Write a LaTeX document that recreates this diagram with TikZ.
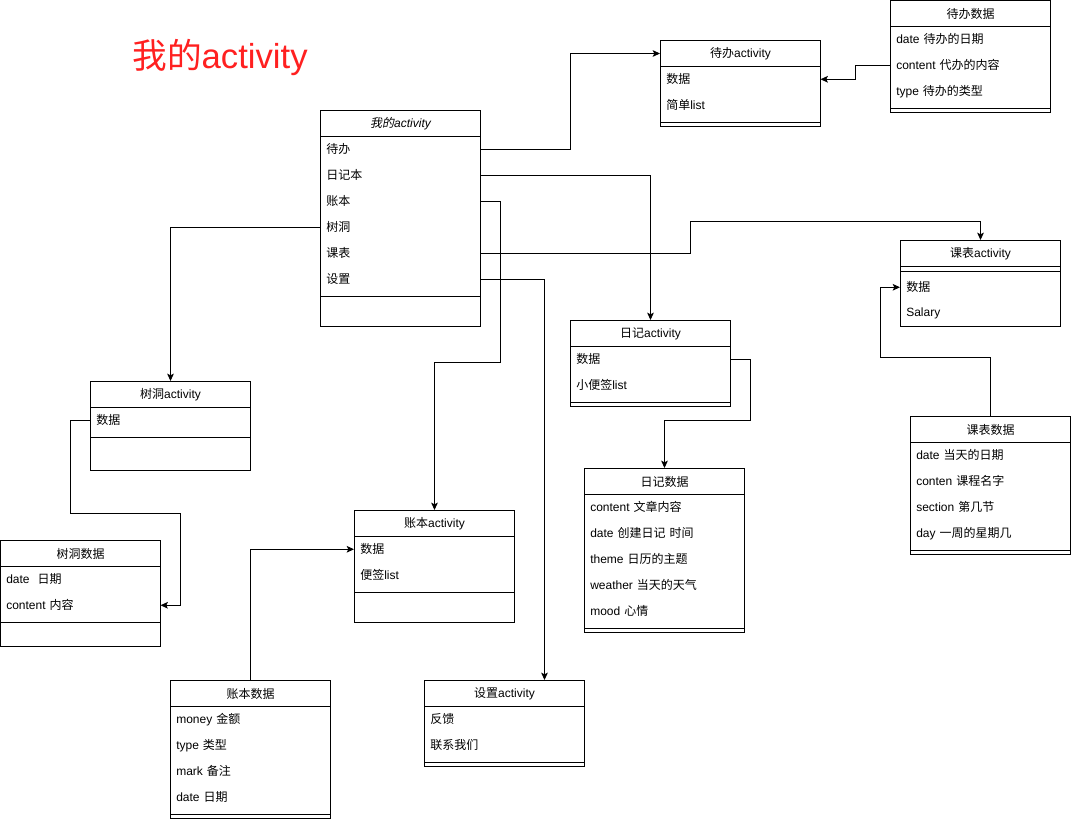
\documentclass[tikz,border=0pt]{standalone}
\usepackage{fontspec}
\setmainfont{Liberation Sans}
\newfontfamily\cjk{Noto Sans CJK SC}
\newfontfamily\cjkit[FakeSlant=0.2]{Noto Sans CJK SC}
\usetikzlibrary{arrows.meta}
\definecolor{titlered}{RGB}{255,32,32}
\tikzset{
	classbox/.style={draw, line width=0.75pt, anchor=north west, minimum width=120pt, minimum height=#1*0.75pt, inner sep=0pt},
	classhead/.style={draw, line width=0.75pt, anchor=north west, minimum width=120pt, minimum height=19.5pt, inner sep=0pt, font=\fontsize{9pt}{11pt}\selectfont},
	field/.style={anchor=north west, minimum height=19.5pt, text width=111pt, inner xsep=4.5pt, inner ysep=0pt, align=left, font=\fontsize{9pt}{11pt}\selectfont},
	rule/.style={line width=0.75pt},
	link/.style={line width=0.75pt, -{Stealth[length=5.5pt,width=5pt,inset=1.2pt]}}
}
\begin{document}
\begin{tikzpicture}[x=0.75pt, y=-0.75pt]
		\useasboundingbox (0,0) rectangle (1071,820);
		\node[font=\fontsize{26pt}{30pt}\selectfont, text=titlered] (title) at (220,57) {{\cjk 我的}activity};

		% main activity
		\node[classbox=216] (actBox) at (320,110) {};
		\node[classhead, font=\fontsize{9pt}{11pt}\selectfont\itshape] (act) at (320,110) {{\cjkit 我的}activity};
		\node[field] (todo) at (320,136)		{\cjk 待办};
		\node[field] (diary) at (320,162)		{\cjk 日记本};
		\node[field] (bill) at (320,188)		{\cjk 账本};
		\node[field] (hole) at (320,214)		{\cjk 树洞};
		\node[field] (course) at (320,240)		{\cjk 课表};
		\node[field] (set) at (320,266)		{\cjk 设置};
		\draw[rule] ([yshift=-3pt]set.south west) -- ([yshift=-3pt]set.south east);

		% todo
		\node[classbox=86] (todoABox) at (660,40) {};
		\node[classhead] (todoA) at (660,40) {{\cjk 待办}activity};
		\node[field] (todoA1) at (660,66)		{\cjk 数据};
		\node[field] (todoA2) at (660,92)		{{\cjk 简单}list};
		\draw[rule] ([yshift=-3pt]todoA2.south west) -- ([yshift=-3pt]todoA2.south east);

		\node[classbox=112] (todoDBox) at (890,0) {};
		\node[classhead] (todoD) at (890,0) {\cjk 待办数据};
		\node[field] (todoD1) at (890,26)		{date {\cjk 待办的日期}};
		\node[field] (todoD2) at (890,52)		{content {\cjk 代办的内容}};
		\node[field] (todoD3) at (890,78)		{type {\cjk 待办的类型}};
		\draw[rule] ([yshift=-3pt]todoD3.south west) -- ([yshift=-3pt]todoD3.south east);

		% course
		\node[classbox=86] (courseABox) at (900,240) {};
		\node[classhead] (courseA) at (900,240) {{\cjk 课表}activity};
		\draw[rule] ([yshift=-3pt]courseA.south west) -- ([yshift=-3pt]courseA.south east);
		\node[field] (courseA1) at (900,274)		{\cjk 数据};
		\node[field] (courseA2) at (900,300)		{Salary};

		\node[classbox=138] (courseDBox) at (910,416) {};
		\node[classhead] (courseD) at (910,416) {\cjk 课表数据};
		\node[field] (courseD1) at (910,442)		{date {\cjk 当天的日期}};
		\node[field] (courseD2) at (910,468)		{conten {\cjk 课程名字}};
		\node[field] (courseD3) at (910,494)		{section {\cjk 第几节}};
		\node[field] (courseD4) at (910,520)		{day {\cjk 一周的星期几}};
		\draw[rule] ([yshift=-3pt]courseD4.south west) -- ([yshift=-3pt]courseD4.south east);

		% diary
		\node[classbox=86] (diaryABox) at (570,320) {};
		\node[classhead] (diaryA) at (570,320) {{\cjk 日记}activity};
		\node[field] (diaryA1) at (570,346)		{\cjk 数据};
		\node[field] (diaryA2) at (570,372)		{{\cjk 小便签}list};
		\draw[rule] ([yshift=-3pt]diaryA2.south west) -- ([yshift=-3pt]diaryA2.south east);

		\node[classbox=164] (diaryDBox) at (584,468) {};
		\node[classhead] (diaryD) at (584,468) {\cjk 日记数据};
		\node[field] (diaryD1) at (584,494)		{content {\cjk 文章内容}};
		\node[field] (diaryD2) at (584,520)		{date {\cjk 创建日记 时间}};
		\node[field] (diaryD3) at (584,546)		{theme {\cjk 日历的主题}};
		\node[field] (diaryD4) at (584,572)		{weather {\cjk 当天的天气}};
		\node[field] (diaryD5) at (584,598)		{mood {\cjk 心情}};
		\draw[rule] ([yshift=-3pt]diaryD5.south west) -- ([yshift=-3pt]diaryD5.south east);

		% hole
		\node[classbox=89] (holeABox) at (90,381) {};
		\node[classhead] (holeA) at (90,381) {{\cjk 树洞}activity};
		\node[field] (holeA1) at (90,407)		{\cjk 数据};
		\draw[rule] ([yshift=-3pt]holeA1.south west) -- ([yshift=-3pt]holeA1.south east);

		\node[classbox=106] (holeDBox) at (0,540) {};
		\node[classhead] (holeD) at (0,540) {\cjk 树洞数据};
		\node[field] (holeD1) at (0,566)		{date\ \ {\cjk 日期}};
		\node[field] (holeD2) at (0,592)		{content {\cjk 内容}};
		\draw[rule] ([yshift=-3pt]holeD2.south west) -- ([yshift=-3pt]holeD2.south east);

		% bill
		\node[classbox=112] (billABox) at (354,510) {};
		\node[classhead] (billA) at (354,510) {{\cjk 账本}activity};
		\node[field] (billA1) at (354,536)		{\cjk 数据};
		\node[field] (billA2) at (354,562)		{{\cjk 便签}list};
		\draw[rule] ([yshift=-3pt]billA2.south west) -- ([yshift=-3pt]billA2.south east);

		\node[classbox=138] (billDBox) at (170,680) {};
		\node[classhead] (billD) at (170,680) {\cjk 账本数据};
		\node[field] (billD1) at (170,706)		{money {\cjk 金额}};
		\node[field] (billD2) at (170,732)		{type {\cjk 类型}};
		\node[field] (billD3) at (170,758)		{mark {\cjk 备注}};
		\node[field] (billD4) at (170,784)		{date {\cjk 日期}};
		\draw[rule] ([yshift=-3pt]billD4.south west) -- ([yshift=-3pt]billD4.south east);

		% settings
		\node[classbox=86] (setABox) at (424,680) {};
		\node[classhead] (setA) at (424,680) {{\cjk 设置}activity};
		\node[field] (setA1) at (424,706)		{\cjk 反馈};
		\node[field] (setA2) at (424,732)		{\cjk 联系我们};
		\draw[rule] ([yshift=-3pt]setA2.south west) -- ([yshift=-3pt]setA2.south east);

		\draw[link] (todo.east) -- ++(90,0) |- (todoA.west);
		\draw[link] (todoD2.west) -- ++(-35,0) |- (todoA1.east);
		\draw[link] (diary.east) -| (diaryA.north);
		\draw[link] (bill.east) -- ++(20,0) -- ++(0,161) -| (billA.north);
		\draw[link] (hole.west) -| (holeA.north);
		\draw[link] (course.east) -- ++(210,0) -- ++(0,-32) -| (courseA.north);
		\draw[link] (set.east) -| ([xshift=30pt]setA.north);
		\draw[link] (diaryA1.east) -- ++(20,0) -- ++(0,61) -| (diaryD.north);
		\draw[link] (courseD.north) -- ++(0,-59) -- ++(-110,0) |- (courseA1.west);
		\draw[link] (holeA1.west) -- ++(-20,0) |- ++(110,93) |- (holeD2.east);
		\draw[link] (billD.north) |- (billA1.west);
	\end{tikzpicture}
\end{document}
